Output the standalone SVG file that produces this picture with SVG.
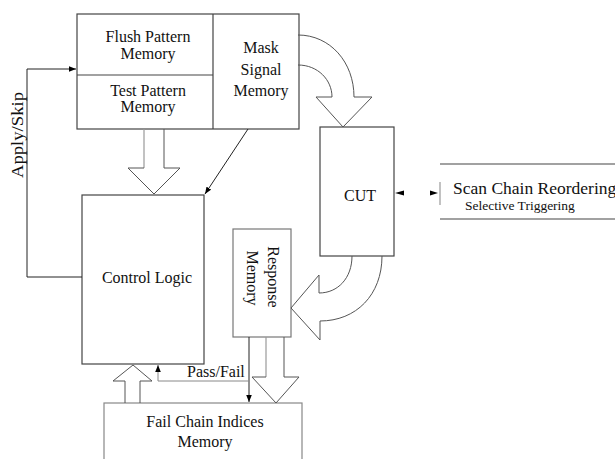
<svg xmlns="http://www.w3.org/2000/svg" width="615" height="459" viewBox="0 0 615 459">
<defs>
<marker id="ah" viewBox="0 0 10 10" refX="10" refY="5" markerWidth="7" markerHeight="7" markerUnits="userSpaceOnUse" orient="auto">
<path d="M0,1 L10,5 L0,9 Z" fill="#000"/>
</marker>
</defs>
<style>
.box{fill:#fff;stroke:#444;stroke-width:1.2}
.lt{fill:none;stroke:#999;stroke-width:1.2}
.ln{fill:none;stroke:#222;stroke-width:1}
.hl{fill:none;stroke:#555;stroke-width:1}
text{font-family:"Liberation Serif","Times New Roman",serif;font-size:16px;fill:#111}
.c{text-anchor:middle}
</style>
<rect width="615" height="459" fill="#fff"/>

<g id="memories">
<rect class="box" x="77" y="14" width="222" height="115"/>
<line class="box" x1="213" y1="14" x2="213" y2="129"/>
<line class="box" x1="77" y1="75" x2="213" y2="75"/>
<text class="c" x="148" y="42">Flush Pattern</text>
<text class="c" x="148" y="59">Memory</text>
<text class="c" x="148" y="96">Test Pattern</text>
<text class="c" x="148" y="112">Memory</text>
<text class="c" x="261" y="53">Mask</text>
<text class="c" x="261" y="75">Signal</text>
<text class="c" x="261" y="96">Memory</text>
</g>

<g id="control-logic">
<rect class="box" x="82" y="195" width="122" height="169"/>
<text class="c" x="147" y="283">Control Logic</text>
</g>

<g id="cut">
<rect class="box" x="320" y="127" width="74" height="129"/>
<text class="c" x="360" y="201">CUT</text>
</g>

<g id="scan-chain">
<line class="box" x1="440" y1="164" x2="615" y2="164"/>
<line class="box" x1="440" y1="219" x2="615" y2="219"/>
<line class="lt" x1="440" y1="182" x2="440" y2="205"/>
<text x="453" y="194" style="font-size:17.5px">Scan Chain Reordering</text>
<text x="465" y="210" style="font-size:13.5px">Selective Triggering</text>
</g>

<g id="response-memory">
<rect class="box" x="233" y="229" width="58" height="108" style="stroke:#777"/>
<text class="c" transform="translate(268,277) rotate(90)">Response</text>
<text class="c" transform="translate(247,278) rotate(90)">Memory</text>
</g>

<g id="fail-chain">
<rect class="box" x="104" y="403" width="198" height="70" style="stroke:#888"/>
<text class="c" x="205" y="427">Fail Chain Indices</text>
<text class="c" x="205" y="447">Memory</text>
</g>

<g id="connectors">
<polyline class="ln" points="82,277 27,277 27,69 76,69" marker-end="url(#ah)"/>
<text class="c" transform="translate(23,135) rotate(-90)" textLength="86" lengthAdjust="spacingAndGlyphs">Apply/Skip</text>
<line class="lt" x1="144" y1="129" x2="144" y2="168"/>
<path class="hl" d="M164,129 L164,168 L180,168 L154,194 L128,168 L144,168"/>
<line class="ln" x1="248" y1="129" x2="205" y2="194" marker-end="url(#ah)"/>
<path class="hl" d="M298,35 C330,35 354,62 354,97 L372,97 L343,127 L316,97 L332,97 C332,80 318,65 298,65"/>
<path d="M395,193 L404,190.5 L404,195.5 Z" fill="#000"/>
<path d="M438,193 L430,190.5 L430,195.5 Z" fill="#000"/>
<path class="hl" d="M382,256 C382,295 356,321 320,321 L320,340 L291,308 L319,275 L319,293 C338,293 352,278 352,256"/>
<line class="ln" x1="249" y1="337" x2="249" y2="402" marker-end="url(#ah)"/>
<line class="lt" x1="266" y1="337" x2="266" y2="377"/>
<path class="hl" d="M284,337 L284,377 L299,377 L276,403 L252,377 L266,377"/>
<polyline class="ln" points="249,381 158,381 158,365" marker-end="url(#ah)" style="stroke:#888"/>
<text x="187" y="377">Pass/Fail</text>
<path class="hl" d="M125,403 L125,381 L113,381 L133,365 L152,381 L140,381 L140,403"/>
</g>
</svg>
